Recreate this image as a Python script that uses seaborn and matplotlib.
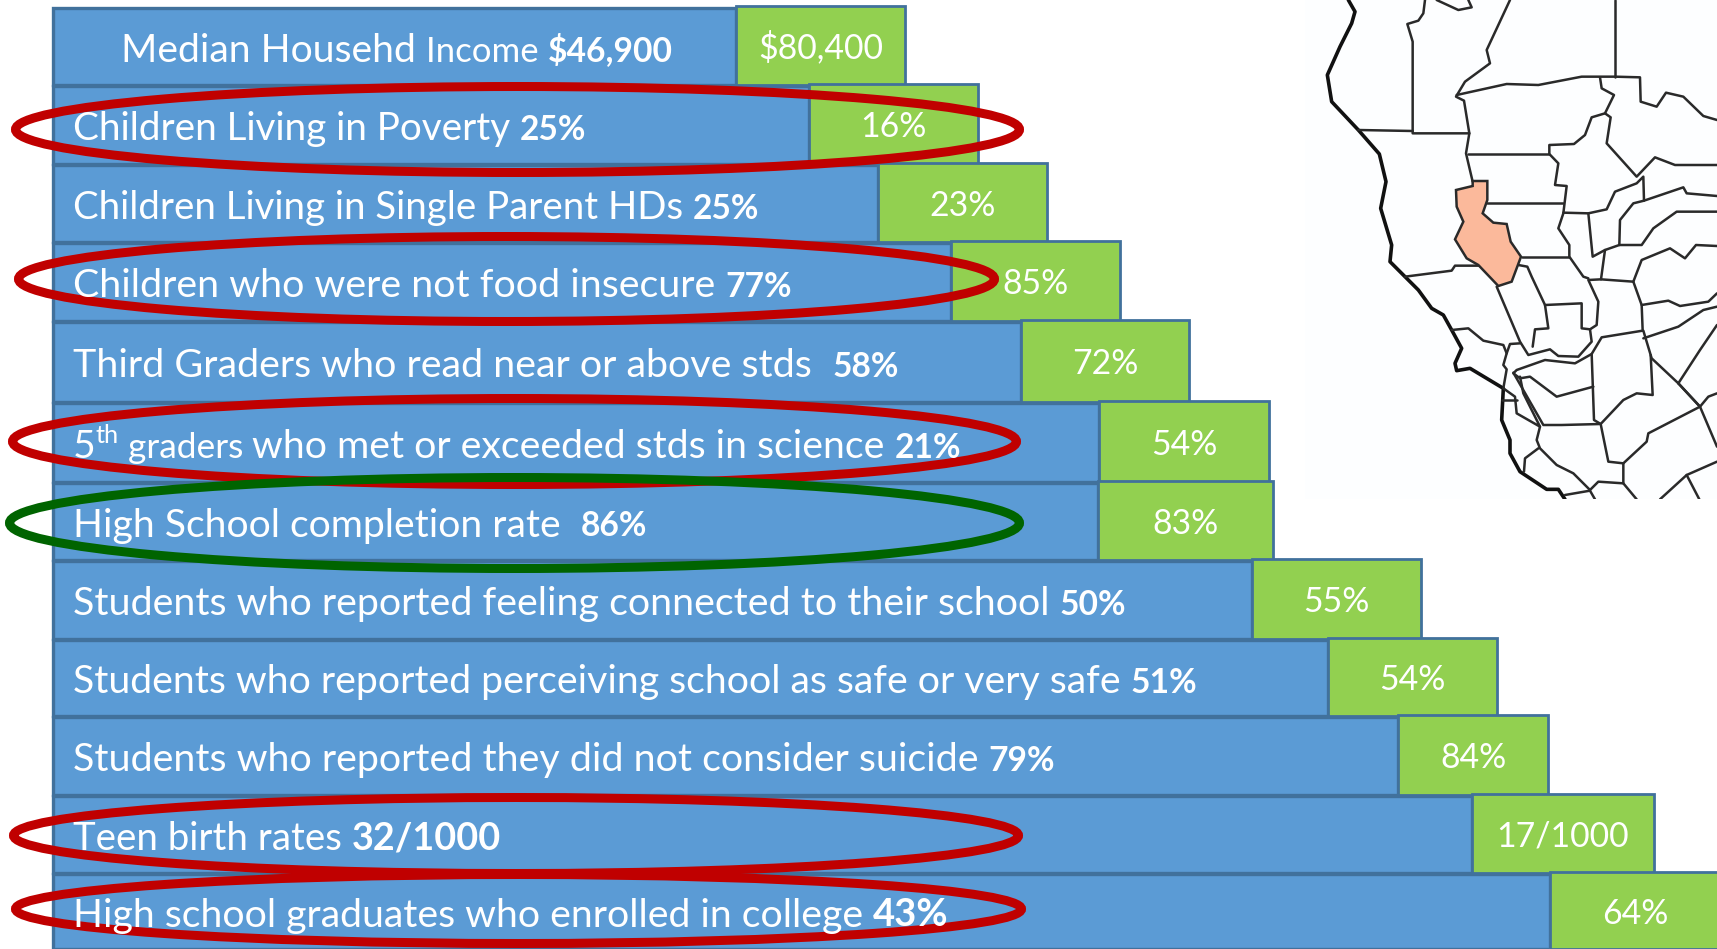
import numpy as np
import matplotlib
matplotlib.use("Agg")
import matplotlib.pyplot as plt
from matplotlib.patches import Ellipse, Rectangle, Polygon
import seaborn as sns

# ---------- data ----------
B = 0.86
county_labels = [
    [("Median Househd ", "normal", 1.0, 0), ("Income ", "normal", 0.889, 0), ("$46,900", "bold", B, 0)],
    [("Children Living in Poverty ", "normal", 0.9855, 0), ("25%", "bold", B, 0)],
    [("Children Living in Single Parent HDs ", "normal", 0.981, 0), ("25%", "bold", B, 0)],
    [("Children who were not food insecure ", "normal", 1.005, 0), ("77%", "bold", B, 0)],
    [("Third Graders who read near or above stds  ", "normal", 1.004, 0), ("58%", "bold", B, 0)],
    [("5", "normal", 1.0, 0), ("th", "normal", 0.65, 15), (" graders ", "normal", 0.9, 0),
     ("who met or exceeded stds in science ", "normal", 1.002, 0), ("21%", "bold", B, 0)],
    [("High School completion rate  ", "normal", 1.0, 0), ("86%", "bold", B, 0)],
    [("Students who reported feeling connected to their school ", "normal", 1.0067, 0), ("50%", "bold", B, 0)],
    [("Students who reported perceiving school as safe or very safe ", "normal", 1.003, 0), ("51%", "bold", B, 0)],
    [("Students who reported they did not consider suicide ", "normal", 1.007, 0), ("79%", "bold", B, 0)],
    [("Teen birth rates ", "normal", 0.98, 0), ("32/1000", "bold", 0.964, 0)],
    [("High school graduates who enrolled in college ", "normal", 1.0025, 0), ("43%", "bold", 0.978, 0)],
]
state_values = ["$80,400", "16%", "23%", "85%", "72%", "54%", "83%", "55%", "54%", "84%", "17/1000", "64%"]
blue_right = np.array([736, 809, 878, 951, 1021, 1099, 1098, 1252, 1328, 1398, 1472, 1550], float)
green_right = np.array([905, 978, 1047, 1120, 1189, 1269, 1273, 1421, 1497, 1548, 1654, 1720], float)
row_top = np.array([8, 86, 165, 243, 322, 403, 483, 561, 640, 717, 796, 874], float)
row_bottom = np.array([85, 164, 242, 321, 402, 482, 560, 639, 716, 795, 873, 949], float)

# County map, traced in 3x crop units from the picture
map_lines = [
    [(175,0),(195,35),(185,70),(150,140),(112,225),(125,305),(205,390),(268,462),(288,545),(272,625),(305,735),(300,785),(345,830),(385,870),(425,925),(460,945),(485,990),(515,1045),(495,1090),(500,1112),(540,1105),(640,1165),(635,1260),(660,1320),(660,1360),(690,1415),(770,1468),(805,1468),(825,1498)],
    [(405,0),(400,40),(385,62),(352,72),(368,125),(368,400),(538,400)],
    [(205,390),(368,393)],
    [(440,0),(505,30),(545,22),(535,0)],
    [(660,0),(590,150),(600,190),(525,245),(498,290),(522,302),(538,400),(528,460),(548,545)],
    [(500,285),(650,252),(745,255),(875,230),(975,230),(1050,232),(1052,305),(1100,320),(1128,278),(1180,290),(1240,348),(1281,360)],
    [(975,0),(975,230)],
    [(930,232),(935,265),(972,285),(945,340),(905,352),(885,405),(852,432),(778,435),(778,462),(805,490),(795,555),(830,558),(820,640),(805,685),(838,735),(838,770),(880,830),(895,835)],
    [(535,462),(778,462)],
    [(945,340),(962,352),(950,430),(1040,530),(1095,472),(1155,495),(1281,495)],
    [(590,608),(820,608)],
    [(820,638),(895,640),(950,628),(975,575),(1040,550),(1060,530),(1062,602)],
    [(895,640),(908,770),(945,750),(988,735),(1055,735),(1090,685),(1160,635),(1281,635)],
    [(988,735),(990,660),(1030,610),(1062,602),(1180,562),(1190,580),(1281,588)],
    [(945,750),(933,838),(895,840),(925,905),(920,975),(900,988),(875,985),(875,910),(765,915),(725,830),(712,800),(685,795)],
    [(933,838),(1030,845),(1055,915),(1135,902),(1170,918),(1255,905),(1281,880)],
    [(1030,845),(1055,780),(1140,745),(1185,775),(1218,735),(1281,738)],
    [(1055,915),(1058,992),(935,1012),(905,1062),(912,1260),(932,1272),(1000,1200),(1040,1180),(1088,1185),(1082,1065)],
    [(695,772),(838,772)],
    [(345,830),(485,812),(495,797),(565,797)],
    [(620,860),(690,1025),(715,1065),(780,1048),(805,1068),(865,1070),(905,1025),(900,988)],
    [(765,915),(775,985),(735,988),(728,1040)],
    [(485,990),(535,985),(580,1022),(640,1035),(650,1060),(640,1095),(650,1108),(640,1165),(675,1190),(680,1240),(750,1280),(700,1180),(690,1130)],
    [(650,1060),(660,1032),(690,1030)],
    [(905,1062),(855,1090),(765,1080),(680,1110),(670,1120),(690,1135),(720,1130),(800,1190),(910,1160)],
    [(670,1118),(760,1275),(815,1275),(932,1272),(955,1385),(1000,1390),(1070,1325),(1075,1300),(1230,1220),(1165,1150)],
    [(1060,992),(1085,1075),(1165,1150),(1230,1220),(1255,1190),(1281,1180)],
    [(1060,1015),(1165,980),(1240,930),(1281,920)],
    [(1165,1150),(1230,1050),(1281,975)],
    [(1230,1220),(1281,1340)],
    [(750,1280),(740,1320),(750,1345),(800,1395),(850,1420),(900,1470),(925,1445),(1000,1450),(1000,1390)],
    [(745,1345),(705,1375),(702,1415)],
    [(635,1200),(680,1200)],
    [(825,1485),(900,1472),(915,1498)],
    [(1000,1450),(1040,1498)],
    [(1110,1498),(1190,1425),(1281,1385)],
    [(1190,1425),(1228,1498)],
]
county_shape = [(548,543),(592,543),(592,600),(578,640),(610,668),(650,672),(662,725),(693,770),(665,845),(625,858),(565,795),(530,775),(495,718),(520,665),(500,620),(498,570),(548,558)]
coast_index = 0

# Ellipses as outer extents: (x0, x1, y0, y1, colour)
RED, DKGREEN = "#C00000", "#006400"
rings = [
    (11, 1024, 82, 177, RED),
    (14, 999, 232, 326, RED),
    (8, 1021, 394, 489, RED),
    (5, 1024, 473, 573, DKGREEN),
    (9, 1023, 793, 878, RED),
    (11, 1026, 870, 948, RED),
]

# ---------- style ----------
W, H = 1717, 949
sns.set_theme(style="white")
plt.rcParams["font.family"] = ["Lato", "DejaVu Sans"]
BLUE, GREEN, EDGE = "#5B9BD5", "#92D050", "#41719C"
BASE_PT = 28.2
STATE_PT = 24.3
LEFT = 53

fig = plt.figure(figsize=(W / 100, H / 100), dpi=100)
ax = fig.add_axes([0, 0, 1, 1])
row_center = (row_top + row_bottom) / 2

sns.barplot(x=blue_right - LEFT, y=row_center, orient="y", native_scale=True, errorbar=None,
            color=BLUE, saturation=1, edgecolor=EDGE, linewidth=2.4, left=LEFT, ax=ax)
sns.barplot(x=green_right - blue_right, y=row_center, orient="y", native_scale=True, errorbar=None,
            color=GREEN, saturation=1, edgecolor=EDGE, linewidth=2.0, left=blue_right, ax=ax)
n = len(row_top)
for p, t, b in zip(ax.patches[:n], row_top, row_bottom):
    p.set_y(t)
    p.set_height(b - t)
for p, t, b in zip(ax.patches[n:], row_top, row_bottom):
    p.set_y(t - 2)
    p.set_height(b - t + 2)

ax.set_xlim(0, W)
ax.set_ylim(H, 0)
ax.axis("off")

# Map
MX, MY = 1290, 0
def to_px(pts):
    a = np.array(pts, float)
    return a[:, 0] / 3 + MX, a[:, 1] / 3 + MY

ax.add_patch(Rectangle((1305, 0), W - 1305, 499, fc="#FDFEFF", ec="none", zorder=1.5))
clip = Rectangle((1305, 0), W - 1305, 499, transform=ax.transData)
sx, sy = to_px(county_shape)
shape = Polygon(np.c_[sx, sy], closed=True, fc="#FBB99B", ec="#2a2a2a", lw=1.8, zorder=2.2)
ax.add_patch(shape)
for i, line in enumerate(map_lines):
    x, y = to_px(line)
    l, = ax.plot(x, y, color="#111111" if i == coast_index else "#2a2a2a",
                 lw=2.6 if i == coast_index else 1.8, zorder=2, solid_joinstyle="round")
    l.set_clip_path(clip)

# Rings
RING_W = 9
for x0, x1, y0, y1, c in rings:
    ax.add_patch(Ellipse(((x0 + x1) / 2, (y0 + y1) / 2), x1 - x0 - RING_W, y1 - y0 - RING_W,
                         fc="none", ec=c, lw=RING_W * 0.72, zorder=3))

# Text
fig.canvas.draw()
rend = fig.canvas.get_renderer()
def advance(s, **kw):
    t1 = ax.text(0, 0, s + ".", **kw)
    t2 = ax.text(0, 0, ".", **kw)
    w = t1.get_window_extent(rend).width - t2.get_window_extent(rend).width
    t1.remove(); t2.remove()
    return w

for i, runs in enumerate(county_labels):
    x = 121 if i == 0 else 73
    base = row_center[i] + 15
    for s, weight, scale, rise in runs:
        kw = dict(fontsize=BASE_PT * scale, fontweight=weight, color="white")
        ax.text(x, base - rise, s, va="baseline", ha="left", zorder=4, **kw)
        x += advance(s, **kw)

for i, s in enumerate(state_values):
    ax.text((blue_right[i] + green_right[i]) / 2, row_center[i] + 12, s, ha="center", va="baseline",
            fontsize=STATE_PT, color="white", zorder=4)

fig.savefig("out.png", dpi=100, facecolor="white")
